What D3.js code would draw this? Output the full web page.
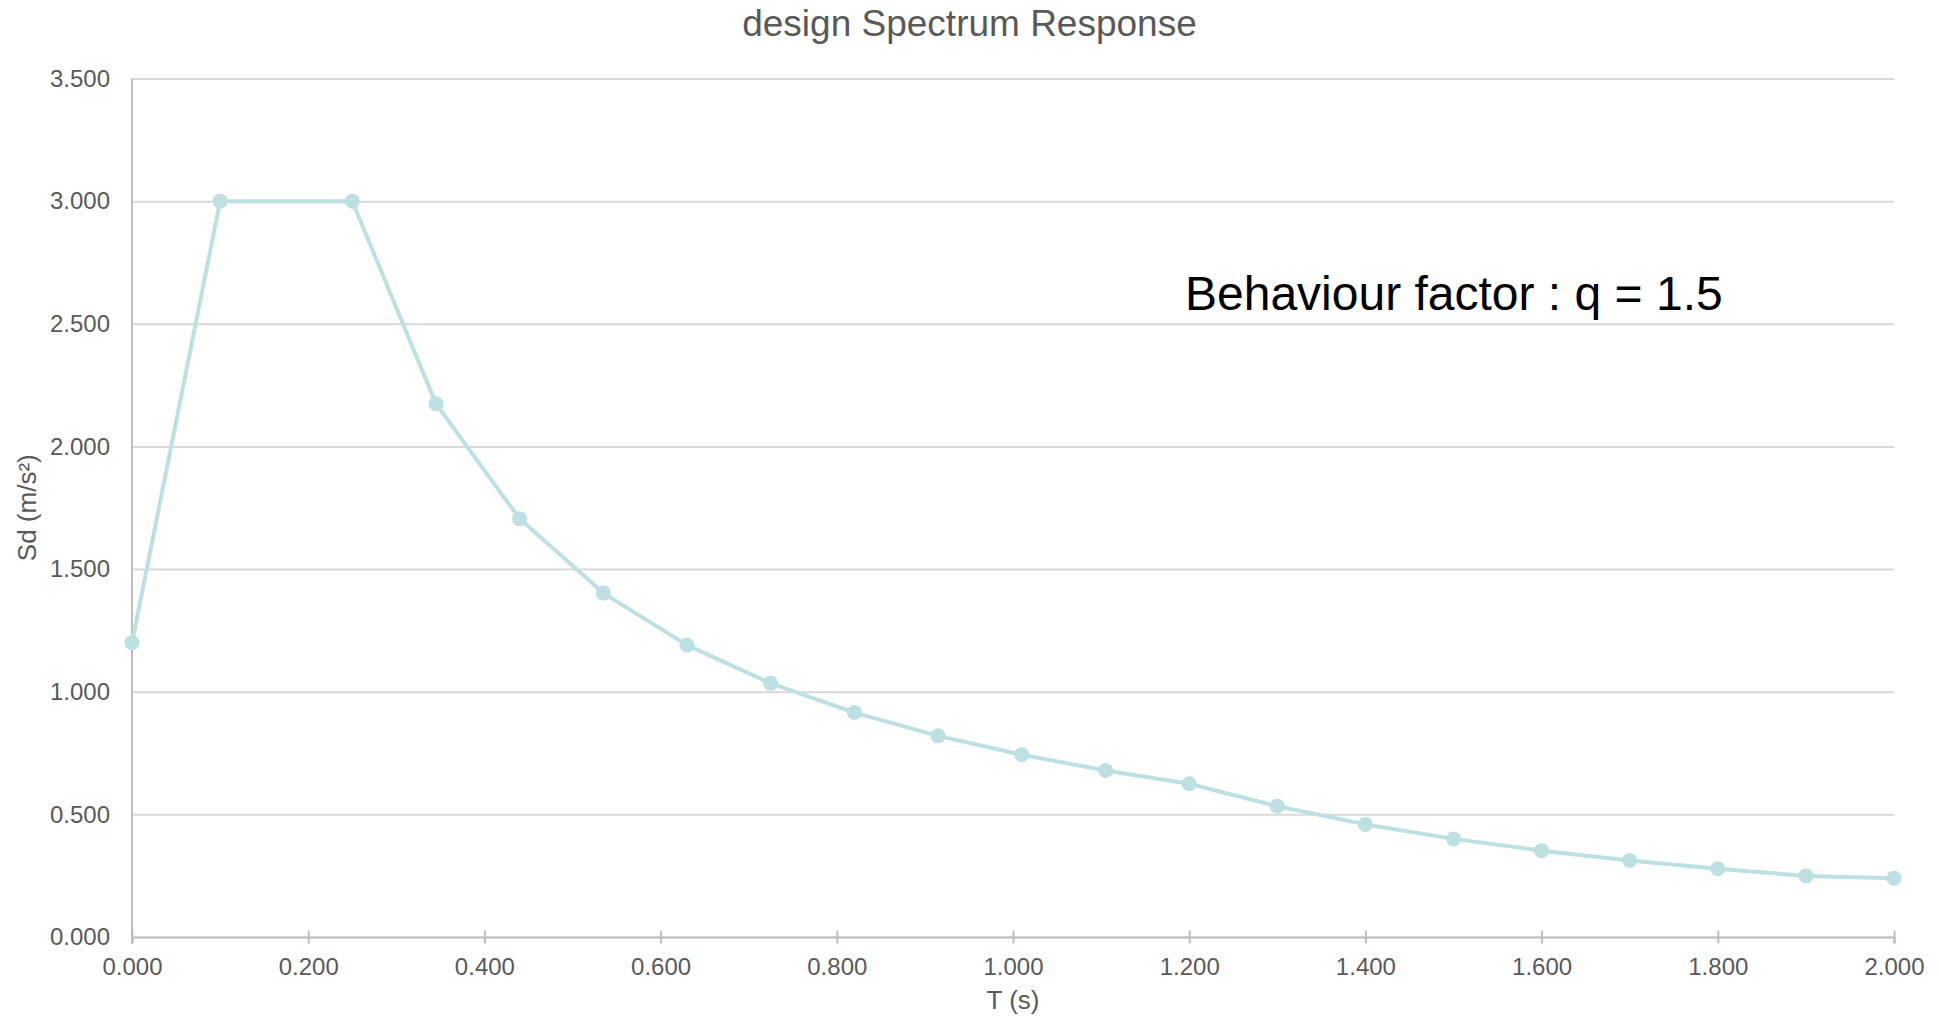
<!DOCTYPE html>
<html>
<head>
<meta charset="utf-8">
<script src="https://cdn.jsdelivr.net/npm/d3@7"></script>
<style>
  html, body { margin: 0; padding: 0; background: #fff; }
  svg { display: block; }
</style>
</head>
<body>
<div id="chart"></div>
<script>
// Period T (s) and design spectrum Sd (m/s2)
const periods = [0, 0.1, 0.25, 0.345, 0.44, 0.535, 0.63, 0.725, 0.82, 0.915, 1.01,
  1.105, 1.2, 1.3, 1.4, 1.5, 1.6, 1.7, 1.8, 1.9, 2.0];
const sdValues = [1.2, 3.0, 3.0, 2.174, 1.705, 1.402, 1.19, 1.034, 0.915, 0.82, 0.743,
  0.679, 0.625, 0.533, 0.459, 0.4, 0.352, 0.312, 0.278, 0.249, 0.24];
const xTicks = [0, 0.2, 0.4, 0.6, 0.8, 1.0, 1.2, 1.4, 1.6, 1.8, 2.0];
const yTicks = [0, 0.5, 1.0, 1.5, 2.0, 2.5, 3.0, 3.5];

const cfg = {
  w: 1939,
  h: 1018,
  top: 78.5,
  right: 45,
  bottom: 81,
  left: 132,
  lineColor: '#bde0e3',
  gridColor: '#d9d9d9',
  axisColor: '#bfbfbf',
  textColor: '#595959',
  font: '"Liberation Sans", Arial, sans-serif',
};

const points = periods.map((t, i) => ({ t, sd: sdValues[i] }));
const innerW = cfg.w - cfg.left - cfg.right;
const innerH = cfg.h - cfg.top - cfg.bottom;

const x = d3.scaleLinear().domain([0, 2]).range([0, innerW]);
const y = d3.scaleLinear().domain([0, 3.5]).range([innerH, 0]);
const fmt = d3.format('.3f');

const svg = d3.select('#chart')
  .append('svg')
  .attr('width', cfg.w)
  .attr('height', cfg.h)
  .style('font-family', cfg.font);

const g = svg.append('g')
  .attr('transform', `translate(${cfg.left}, ${cfg.top})`);

// Horizontal grid + y labels
const yAxis = g.append('g')
  .call(d3.axisLeft(y).tickValues(yTicks).tickFormat(fmt).tickSize(-innerW).tickPadding(22));
yAxis.select('.domain').remove();
yAxis.selectAll('.tick line')
  .attr('stroke', cfg.gridColor)
  .attr('stroke-width', 2);
yAxis.selectAll('.tick text')
  .attr('fill', cfg.textColor)
  .style('font-size', '24px');

// Vertical axis line, runs down past the x axis like a tick
g.append('line')
  .attr('x1', 0)
  .attr('x2', 0)
  .attr('y1', 0)
  .attr('y2', innerH + 6.5)
  .attr('stroke', cfg.axisColor)
  .attr('stroke-width', 2);

// X axis, ticks cross the line
const xAxis = g.append('g')
  .attr('transform', `translate(0, ${innerH})`)
  .call(d3.axisBottom(x).tickValues(xTicks).tickFormat(fmt).tickSizeOuter(0).tickSize(6.5).tickPadding(14));
xAxis.select('.domain')
  .attr('stroke', cfg.axisColor)
  .attr('stroke-width', 2);
xAxis.selectAll('.tick line')
  .attr('y1', -6.5)
  .attr('stroke', cfg.axisColor)
  .attr('stroke-width', 2);
xAxis.selectAll('.tick text')
  .attr('fill', cfg.textColor)
  .style('font-size', '24px');

// Series
const line = d3.line()
  .x(d => x(d.t))
  .y(d => y(d.sd));

g.append('path')
  .datum(points)
  .attr('fill', 'none')
  .attr('stroke', cfg.lineColor)
  .attr('stroke-width', 4)
  .attr('stroke-linejoin', 'round')
  .attr('d', line);

g.selectAll('.node')
  .data(points)
  .enter()
  .append('circle')
  .attr('class', 'node')
  .attr('cx', d => x(d.t))
  .attr('cy', d => y(d.sd))
  .attr('r', 7.5)
  .attr('fill', cfg.lineColor);

// Titles
svg.append('text')
  .attr('x', cfg.w / 2)
  .attr('y', 36)
  .attr('text-anchor', 'middle')
  .attr('fill', cfg.textColor)
  .style('font-size', '37px')
  .text('design Spectrum Response');

svg.append('text')
  .attr('x', cfg.left + innerW / 2)
  .attr('y', 1009)
  .attr('text-anchor', 'middle')
  .attr('fill', cfg.textColor)
  .style('font-size', '26px')
  .text('T (s)');

svg.append('text')
  .attr('transform', `translate(36, ${cfg.top + innerH / 2}) rotate(-90)`)
  .attr('text-anchor', 'middle')
  .attr('fill', cfg.textColor)
  .style('font-size', '26px')
  .text('Sd (m/s²)');

// Annotation
svg.append('text')
  .attr('x', 1185)
  .attr('y', 310)
  .attr('fill', '#000')
  .style('font-size', '48px')
  .text('Behaviour factor : q = 1.5');
</script>
</body>
</html>
